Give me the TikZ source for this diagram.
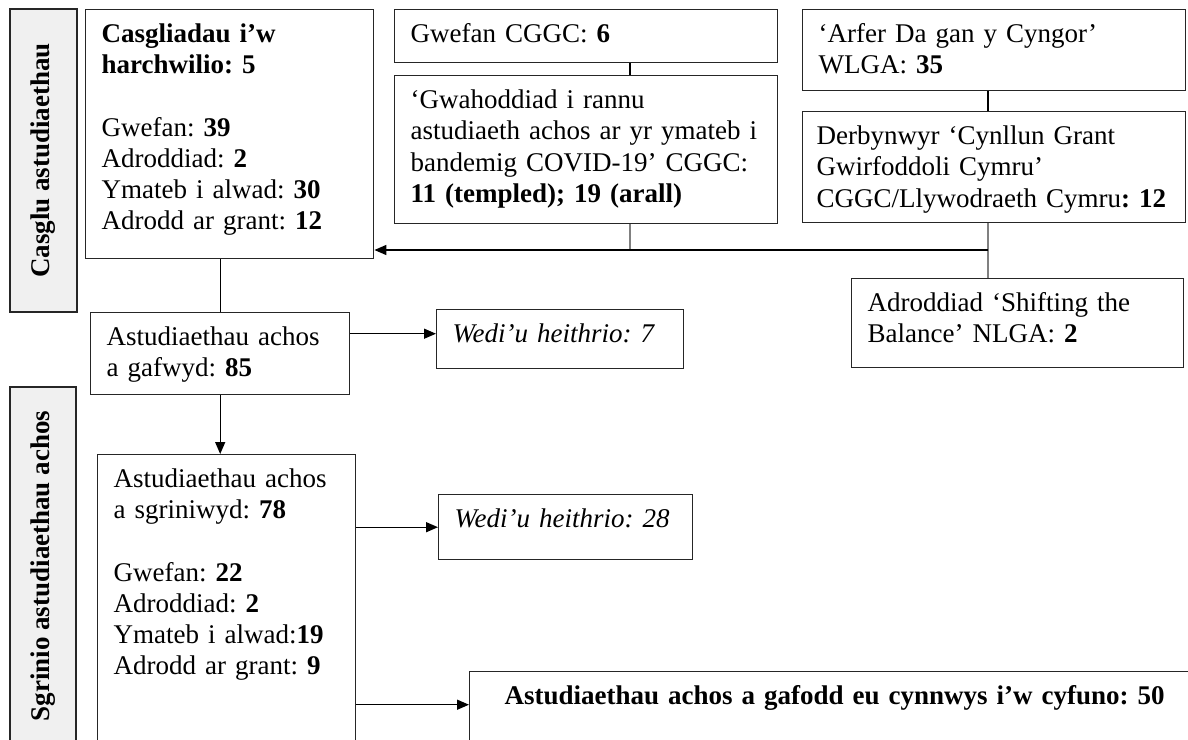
\documentclass[tikz,border=0pt]{standalone}
\usepackage{fontspec}
\setmainfont{Liberation Serif}
\usetikzlibrary{arrows.meta}

\begin{document}
\begin{tikzpicture}[x=0.5pt, y=-0.5pt, line width=0.7pt,
  font=\fontsize{13.5}{15.6}\selectfont\frenchspacing,
  blk/.style={draw=black!85, anchor=north west, align=left, inner xsep=8pt, inner ysep=0pt, text height=16.5pt},
  side/.style={draw=black!85, fill=gray!12, rotate=90, inner sep=0pt, font=\fontsize{13.5}{15.6}\selectfont\bfseries},
  arr/.style={-{Triangle[length=6pt, width=5pt]}},
  feed/.style={draw=gray}]
\useasboundingbox (0,0) rectangle (1188,739);
\clip (0,0) rectangle (1188,739);

% stage labels
\node[side, minimum width=151.5pt, minimum height=33.5pt] (lab1) at (43.5,160.5) {Casglu astudiaethau};
\node[side, minimum width=179pt, minimum height=33pt] (lab2) at (43,566) {Sgrinio astudiaethau achos};

% sources
\node[blk, text width=128pt, text depth=108pt] (b1) at (85,9)
  {\textbf{Casgliadau i’w}\\ \textbf{harchwilio: 5}\\[15.6pt] Gwefan: \textbf{39}\\ Adroddiad: \textbf{2}\\ Ymateb i alwad: \textbf{30}\\ Adrodd ar grant: \textbf{12}};
\node[blk, text width=175.5pt, text depth=10pt] (gw) at (394,9) {Gwefan CGGC: \textbf{6}};
\node[blk, text width=175.5pt, text depth=57.5pt] (inv) at (394,75)
  {‘Gwahoddiad i rannu\\ astudiaeth achos ar yr ymateb i\\ bandemig COVID-19’ CGGC:\\ \textbf{11 (templed); 19 (arall)}};
\node[blk, text width=175.5pt, text depth=24pt] (arf) at (802,9) {‘Arfer Da gan y Cyngor’\\ WLGA: \textbf{35}};
\node[blk, inner xsep=7pt, text width=177.5pt, text depth=39pt] (der) at (802,111)
  {Derbynwyr ‘Cynllun Grant\\ Gwirfoddoli Cymru’\\ \mbox{CGGC/Llywodraeth Cymru\textbf{: 12}}};
\node[blk, text width=150pt, text depth=28pt] (shf) at (851,278) {Adroddiad ‘Shifting the\\ Balance’ NLGA: \textbf{2}};

% screening
\node[blk, text width=113.5pt, text depth=24.5pt] (b85) at (90,312) {Astudiaethau achos\\ a gafwyd: \textbf{85}};
\node[blk, text width=107.5pt, text depth=13pt] (ex1) at (436,309) {\textit{Wedi’u heithrio: 7}};
\node[blk, text width=113pt, text depth=143.5pt] (b78) at (97,454)
  {Astudiaethau achos\\ a sgriniwyd: \textbf{78}\\[15.6pt] Gwefan: \textbf{22}\\ Adroddiad: \textbf{2}\\ Ymateb i alwad:\textbf{19}\\ Adrodd ar grant: \textbf{9}};
\node[blk, text width=111pt, text depth=16pt] (ex2) at (438,494) {\textit{Wedi’u heithrio: 28}};
\node[blk, align=center, text width=349pt, text depth=33.5pt] (fin) at (469,671)
  {\textbf{Astudiaethau achos a gafodd eu cynnwys i’w cyfuno: 50}};

\coordinate (j1) at (630,250);
\coordinate (j2) at (988,250);

\draw (gw.south -| j1) -- (inv.north -| j1);
\draw[feed] (inv.south -| j1) -- (j1);
\draw (arf.south -| j2) -- (der.north -| j2);
\draw[feed] (der.south -| j2) -- (shf.north -| j2);
\draw[arr] (j2) -- (b1.east |- j2);

\draw (b1.south -| b85.north) -- (b85.north);
\draw[arr] (b85.south) -- (b85.south |- b78.north);
\draw[arr] ([yshift=2.75pt]ex1.west -| b85.east) -- ([yshift=2.75pt]ex1.west);
\draw[arr] (ex2.west -| b78.east) -- (ex2.west);
\draw[arr] (fin.base -| b78.east) -- (fin.base -| fin.west);
\end{tikzpicture}
\end{document}
